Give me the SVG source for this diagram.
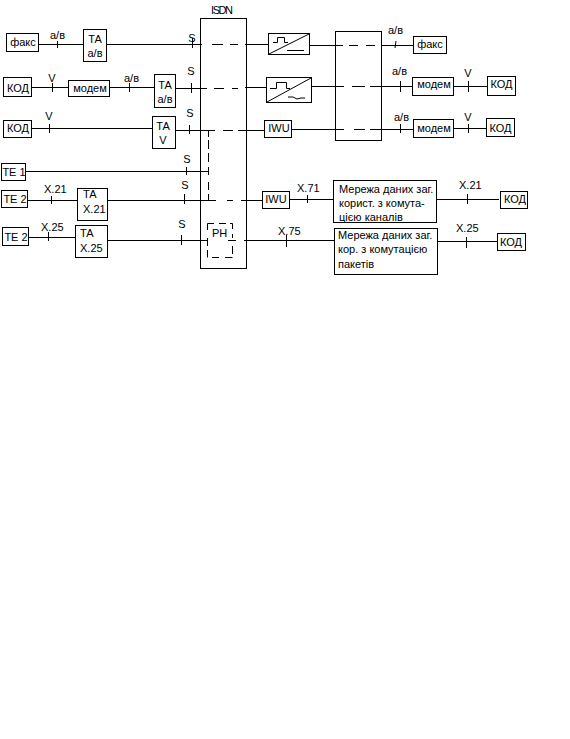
<svg xmlns="http://www.w3.org/2000/svg" width="570" height="739" viewBox="0 0 570 739">
<style>
rect{fill:#fff;stroke:#000;stroke-width:1}
.l,.t{stroke:#000;stroke-width:1;fill:none}
text{font-family:"Liberation Sans",Arial,sans-serif;font-size:11px;fill:#000}
.m{text-anchor:middle}
</style>
<rect width="570" height="739" style="fill:#fff;stroke:none"/>
<g id="isdn"><rect x="200.500" y="18.500" width="46" height="250"/><text class="m" x="222" y="14" textLength="22">ISDN</text></g>
<g id="middle-box"><rect x="335.500" y="31.500" width="46" height="109"/></g>
<g id="connectors">
<path class="l" d="M38 44.500H83M106 44.500H202M212 44.500H223M230 44.500H238M245 44.500H268M310 45.500H343M349 45.500H358M366 45.500H375M381 45.500H413"/>
<path class="l" d="M31 87.500H68M109 87.500H154M175 88.500H207M214 88.500H224M232 88.500H238M245 87.500H266M311 86.500H344M352 86.500H365M370 86.500H412M453 86.500H487"/>
<path class="l" d="M31 128.500H152M175 130.500H215M223 130.500H233M238 130.500H264M291 129.500H344M354 129.500H365M370 129.500H413M453 128.500H486"/>
<path class="l" d="M25 171.500H208M27 200.500H77M107 200.500H216M227 200.500H233M241 200.500H262M289 199.500H333M437 199.500H499"/>
<path class="l" d="M28 237.500H75M107 240.500H208M228 240.500H236M244 240.500H334M438 241.500H497"/>
<path class="l" d="M208.500 130V137M208.500 140V149M208.500 153V162M208.500 167V175M208.500 182V190M208.500 194V200"/>
<path class="t" d="M57.500 41V48M192.500 38V48M52.500 83V92M129.500 83V92M191.500 83V93M49.500 124V133M189.500 125V134M186.500 167V175M51.500 196V204M184.500 194V204M48.500 232V241M181.500 235V245M396 41L395 48M400.500 81V92M468.500 81V92M400.500 124V133M468.500 124V133M307.500 195V203M467.500 194V204M286.500 235V247M466.500 237V248"/>
</g>
<g id="fax-l"><rect x="6.500" y="33.500" width="32" height="18"/><text class="m" x="23" y="46">факс</text></g>
<g id="ta-1"><rect x="83.500" y="29.500" width="23" height="32"/><text class="m" x="95" y="43">ТА</text><text class="m" x="95" y="57">а/в</text></g>
<g id="kod-1"><rect x="3.500" y="77.500" width="28" height="19"/><text class="m" x="18" y="92">КОД</text></g>
<g id="modem-l"><rect x="68.500" y="80.500" width="41" height="16"/><text class="m" x="90" y="92">модем</text></g>
<g id="ta-2"><rect x="154.500" y="74.500" width="21" height="33"/><text class="m" x="165" y="89">ТА</text><text class="m" x="165" y="103">а/в</text></g>
<g id="kod-2"><rect x="3.500" y="120.500" width="28" height="17"/><text class="m" x="18" y="132">КОД</text></g>
<g id="ta-3"><rect x="152.500" y="116.500" width="23" height="32"/><text class="m" x="163" y="130">ТА</text><text class="m" x="163" y="144">V</text></g>
<g id="te-1"><rect x="1.500" y="163.500" width="24" height="17"/><text class="m" x="14" y="176">ТЕ 1</text></g>
<g id="te-2"><rect x="1.500" y="190.500" width="26" height="17"/><text class="m" x="15" y="203">ТЕ 2</text></g>
<g id="ta-4"><rect x="77.500" y="188.500" width="30" height="32"/><text x="83" y="198">ТА</text><text x="83" y="213">X.21</text></g>
<g id="te-3"><rect x="2.500" y="227.500" width="26" height="18"/><text class="m" x="16" y="241">ТЕ 2</text></g>
<g id="ta-5"><rect x="75.500" y="225.500" width="32" height="32"/><text x="80" y="237">ТА</text><text x="80" y="252">X.25</text></g>
<g id="ph"><path class="l" d="M207.500 230V223.500H214M219 223.500H226M230 223.500H232.500V229M232.500 234V238M232.500 246V254M232.500 257.500H225M219 257.500H212M207.500 257.500V250M207.500 246V238"/><text x="212" y="237">РН</text></g>
<g id="conv-1"><rect x="268.500" y="33.500" width="41" height="21"/><path class="l" d="M269 54L309 34M273 42.500H277.500V37.500H284.500V42.500H288M287 50.500H304"/></g>
<g id="conv-2"><rect x="266.500" y="77.500" width="45" height="25"/><path class="l" d="M267 102L311 78M270 88.500H276.500V82.500H286.500V88.500H290M288 97H293L297 99L301 98H305"/></g>
<g id="iwu-1"><rect x="264.500" y="120.500" width="27" height="17"/><text class="m" x="279" y="132">IWU</text></g>
<g id="iwu-2"><rect x="262.500" y="191.500" width="27" height="17"/><text class="m" x="276" y="203">IWU</text></g>
<g id="fax-r"><rect x="413.500" y="36.500" width="33" height="17"/><text class="m" x="430" y="48">факс</text></g>
<g id="modem-r1"><rect x="412.500" y="77.500" width="41" height="18"/><text class="m" x="434" y="88">модем</text></g>
<g id="kod-r1"><rect x="487.500" y="76.500" width="28" height="19"/><text class="m" x="501.500" y="88">КОД</text></g>
<g id="modem-r2"><rect x="413.500" y="119.500" width="40" height="18"/><text class="m" x="434" y="132">модем</text></g>
<g id="kod-r2"><rect x="486.500" y="118.500" width="28" height="18"/><text class="m" x="500.500" y="132">КОД</text></g>
<g id="net-1"><rect x="333.500" y="180.500" width="103" height="42"/><text x="339" y="193">Мережа даних заг.</text><text x="339" y="207">корист. з комута-</text><text x="339" y="221">цією каналів</text></g>
<g id="net-2"><rect x="334.500" y="228.500" width="103" height="46"/><text x="338" y="239">Мережа даних заг.</text><text x="338" y="253">кор. з комутацією</text><text x="338" y="268">пакетів</text></g>
<g id="kod-r3"><rect x="500.500" y="191.500" width="27" height="17"/><text class="m" x="515" y="203">КОД</text></g>
<g id="kod-r4"><rect x="497.500" y="233.500" width="28" height="17"/><text class="m" x="511" y="246">КОД</text></g>
<g id="labels">
<text x="50" y="39">а/в</text><text class="m" x="192" y="42">S</text>
<text class="m" x="52" y="82">V</text><text x="124" y="82">а/в</text><text class="m" x="191" y="75">S</text>
<text class="m" x="49" y="120">V</text><text class="m" x="190" y="117">S</text>
<text class="m" x="187" y="163">S</text><text class="m" x="185" y="189">S</text><text class="m" x="182" y="228">S</text>
<text x="44" y="193">X.21</text><text x="41" y="231">X.25</text>
<text x="388" y="34">а/в</text><text x="392" y="75">а/в</text><text x="394" y="121">а/в</text>
<text class="m" x="468" y="77">V</text><text class="m" x="468" y="121">V</text>
<text x="297" y="192">X.71</text><text x="278" y="235">X.75</text>
<text x="459" y="189">X.21</text><text x="456" y="232">X.25</text>
</g>
</svg>
